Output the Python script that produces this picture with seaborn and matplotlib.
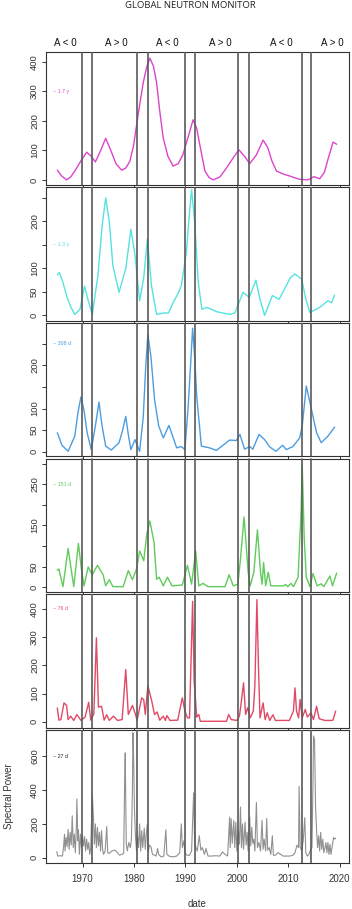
import numpy as np
import pandas as pd
import matplotlib
matplotlib.use("Agg")
import matplotlib.pyplot as plt
import seaborn as sns

# ---- data (year, spectral power) ----

# ~1.7 y
yr_17y = [1965.1, 1965.9, 1966.9, 1967.7, 1968.5, 1969.6, 1970.8, 1971.7, 1972.5, 1973.4, 1974.5,
          1975.5, 1976.5, 1977.6, 1978.4, 1979.2, 1979.9, 1980.5, 1981.2, 1981.8, 1982.5, 1983.1,
          1983.8, 1984.4, 1985.0, 1985.7, 1986.6, 1987.6, 1988.6, 1989.5, 1990.6, 1991.5, 1992.2,
          1992.8, 1993.8, 1994.6, 1995.4, 1996.7, 1998.0, 1999.3, 2000.4, 2001.5, 2002.5, 2003.8,
          2005.1, 2006.0, 2006.8, 2007.7, 2009.0, 2010.3, 2011.3, 2012.2, 2013.8, 2015.0, 2016.1,
          2017.0, 2017.8, 2018.7, 2019.4]
pw_17y = [33, 14, 0, 10, 30, 62, 94, 80, 61, 95, 141, 100, 55, 33, 40, 63, 115, 185, 265, 330, 385, 413,
          385, 330, 235, 141, 80, 47, 55, 85, 150, 204, 175, 119, 30, 8, 0, 10, 41, 75, 102, 80, 55, 85,
          135, 110, 65, 30, 20, 13, 7, 2, 0, 11, 4, 25, 75, 128, 121]

# ~1.3 y
yr_13y = [1965.1, 1965.5, 1966.2, 1966.9, 1967.7, 1968.5, 1969.5, 1970.4, 1971.1, 1971.9, 1973.0,
          1973.8, 1974.5, 1975.2, 1975.9, 1977.1, 1978.4, 1979.4, 1980.2, 1981.1, 1981.9, 1982.6,
          1983.4, 1984.4, 1985.7, 1986.7, 1987.6, 1988.5, 1989.2, 1990.2, 1990.8, 1991.2, 1991.8,
          1992.5, 1993.2, 1994.2, 1996.0, 1998.6, 1999.6, 2001.2, 2002.4, 2003.7, 2004.5, 2005.4,
          2006.9, 2008.2, 2009.6, 2010.4, 2011.3, 2012.6, 2013.4, 2014.2, 2016.1, 2017.7, 2018.4,
          2019.0]
pw_13y = [86, 91, 70, 42, 18, 2, 13, 62, 32, 2, 85, 190, 250, 200, 106, 49, 99, 183, 128, 31, 80, 162,
          63, 2, 5, 5, 27, 45, 63, 135, 220, 267, 199, 70, 13, 17, 8, 2, 5, 49, 38, 75, 34, 0, 42, 34, 63,
          80, 88, 77, 35, 6, 17, 31, 27, 43]

# ~308 d
yr_308d = [1965.1, 1966.0, 1967.2, 1968.5, 1969.1, 1969.7, 1970.3, 1970.9, 1971.7, 1972.5, 1973.2,
           1973.8, 1974.5, 1975.6, 1977.1, 1977.8, 1978.4, 1978.9, 1979.4, 1980.2, 1981.1, 1981.8,
           1982.3, 1982.7, 1983.3, 1984.0, 1984.8, 1985.7, 1986.8, 1988.3, 1989.2, 1989.9, 1990.5,
           1991.0, 1991.4, 1991.8, 1992.2, 1993.1, 1994.7, 1996.0, 1998.6, 1999.9, 2000.6, 2001.5,
           2002.5, 2003.1, 2004.3, 2005.4, 2006.4, 2007.6, 2008.9, 2009.6, 2010.9, 2012.2, 2012.7,
           2013.5, 2014.5, 2015.5, 2016.4, 2017.7, 2019.0]
pw_308d = [44, 15, 1, 36, 90, 127, 95, 44, 5, 60, 115, 60, 13, 4, 21, 50, 82, 40, 5, 28, 1, 80, 200, 271,
           220, 121, 60, 32, 61, 9, 12, 5, 98, 200, 286, 220, 128, 13, 9, 3, 27, 26, 40, 6, 12, 6, 40, 28,
           11, 1, 15, 5, 12, 32, 59, 152, 98, 44, 21, 36, 57]

# ~151 d
yr_151d = [1965.1, 1965.4, 1966.2, 1967.2, 1968.3, 1969.2, 1969.8, 1970.3, 1971.1, 1971.9, 1972.9,
           1974.0, 1974.5, 1975.2, 1975.9, 1977.9, 1978.9, 1979.7, 1980.5, 1981.1, 1981.9, 1982.5,
           1983.1, 1983.9, 1984.4, 1984.9, 1985.7, 1986.5, 1987.4, 1989.4, 1990.4, 1991.2, 1992.0,
           1992.6, 1993.4, 1994.4, 1997.7, 1998.5, 1999.3, 2000.2, 2000.7, 2001.4, 2002.2, 2002.6,
           2003.3, 2004.0, 2004.6, 2004.9, 2005.2, 2005.6, 2006.1, 2006.6, 2009.0, 2009.5, 2009.9,
           2010.5, 2011.0, 2011.9, 2012.5, 2012.7, 2013.1, 2013.5, 2014.2, 2014.8, 2015.6, 2016.4,
           2016.9, 2018.1, 2018.6, 2019.4]
pw_151d = [41, 44, 1, 94, 1, 106, 42, 3, 49, 30, 53, 30, 3, 18, 1, 1, 40, 18, 44, 88, 64, 130, 161, 108,
           19, 24, 3, 24, 3, 5, 53, 7, 88, 3, 9, 1, 1, 30, 3, 7, 68, 171, 36, 3, 36, 139, 36, 7, 60, 3, 36,
           3, 3, 6, 1, 9, 1, 24, 189, 301, 117, 24, 1, 33, 3, 8, 1, 27, 3, 34]

# ~76 d
yr_76d = [1965.1, 1965.4, 1965.8, 1966.4, 1966.9, 1967.2, 1967.7, 1968.3, 1968.9, 1969.7, 1970.5,
          1971.2, 1971.6, 1972.2, 1972.7, 1973.1, 1973.7, 1974.2, 1974.7, 1975.2, 1976.0, 1976.8,
          1977.7, 1978.4, 1978.9, 1979.7, 1980.3, 1980.6, 1981.5, 1981.9, 1982.2, 1982.7, 1983.4,
          1984.0, 1984.5, 1985.0, 1985.7, 1986.1, 1986.4, 1987.0, 1988.5, 1989.4, 1989.9, 1990.4,
          1990.8, 1991.4, 1991.7, 1992.2, 1992.6, 1992.9, 1998.0, 1998.4, 1998.9, 2000.0, 2000.5,
          2000.9, 2001.3, 2001.7, 2002.1, 2002.6, 2003.2, 2003.5, 2003.9, 2004.2, 2004.5, 2005.1,
          2005.5, 2005.9, 2006.4, 2007.0, 2007.5, 2010.2, 2011.0, 2011.3, 2011.6, 2012.0, 2012.3,
          2012.7, 2013.3, 2013.7, 2014.4, 2014.9, 2015.5, 2016.0, 2017.1, 2018.4, 2018.7, 2019.2]
pw_76d = [49, 6, 8, 67, 58, 8, 20, 5, 26, 5, 17, 69, 6, 28, 297, 52, 55, 6, 25, 5, 20, 5, 8, 185, 26, 58,
          26, 5, 85, 78, 26, 128, 78, 26, 35, 6, 20, 5, 22, 5, 6, 85, 38, 14, 14, 426, 144, 17, 26, 2, 2,
          26, 8, 5, 20, 75, 138, 26, 50, 14, 38, 127, 432, 197, 14, 67, 8, 32, 5, 25, 5, 5, 38, 120, 38,
          14, 79, 14, 44, 17, 32, 8, 55, 11, 5, 5, 6, 38]

# ~27 d
yr_27d = [1965.0, 1965.2, 1965.8, 1966.1, 1966.3, 1966.5, 1966.6, 1966.8, 1967.0, 1967.2, 1967.4,
          1967.6, 1967.8, 1968.0, 1968.2, 1968.4, 1968.6, 1968.8, 1968.9, 1969.1, 1969.2, 1969.4,
          1969.6, 1969.8, 1970.0, 1970.2, 1970.4, 1970.6, 1970.8, 1971.0, 1971.2, 1971.4, 1971.6,
          1971.9, 1972.1, 1972.3, 1972.5, 1972.7, 1972.9, 1973.1, 1973.3, 1973.5, 1973.7, 1973.9,
          1974.1, 1974.4, 1974.7, 1974.9, 1975.2, 1975.7, 1976.3, 1976.8, 1977.2, 1977.6, 1978.0,
          1978.2, 1978.3, 1978.5, 1978.7, 1979.0, 1979.3, 1979.5, 1979.7, 1979.8, 1979.9, 1980.1,
          1980.3, 1980.5, 1980.7, 1980.9, 1981.1, 1981.3, 1981.5, 1981.7, 1982.0, 1982.2, 1982.4,
          1982.6, 1982.8, 1983.0, 1983.3, 1983.6, 1984.0, 1984.3, 1984.6, 1984.8, 1985.3, 1985.8,
          1986.2, 1986.4, 1986.8, 1987.5, 1988.3, 1988.9, 1989.2, 1989.4, 1989.7, 1989.9, 1990.3,
          1990.8, 1991.2, 1991.5, 1991.6, 1991.8, 1992.0, 1992.3, 1992.7, 1993.0, 1993.3, 1993.7,
          1994.0, 1994.4, 1995.0, 1995.8, 1996.7, 1997.2, 1997.7, 1998.2, 1998.6, 1998.7, 1998.9,
          1999.1, 1999.4, 1999.6, 1999.8, 2000.0, 2000.3, 2000.5, 2000.7, 2000.9, 2001.1, 2001.3,
          2001.6, 2001.8, 2002.0, 2002.2, 2002.5, 2002.7, 2002.9, 2003.1, 2003.3, 2003.5, 2003.8,
          2004.0, 2004.3, 2004.6, 2004.9, 2005.1, 2005.3, 2005.6, 2005.8, 2006.0, 2006.3, 2006.6,
          2006.9, 2007.1, 2007.5, 2008.0, 2008.5, 2009.0, 2009.6, 2010.3, 2010.9, 2011.3, 2011.7,
          2012.0, 2012.1, 2012.3, 2012.6, 2012.9, 2013.2, 2013.4, 2013.7, 2014.0, 2014.3, 2014.6,
          2014.8, 2014.9, 2015.1, 2015.3, 2015.5, 2015.7, 2015.9, 2016.1, 2016.3, 2016.5, 2016.7,
          2016.9, 2017.1, 2017.3, 2017.5, 2017.7, 2017.9, 2018.1, 2018.3, 2018.5, 2018.8, 2019.0,
          2019.2]
pw_27d = [36, 10, 12, 10, 60, 139, 40, 120, 65, 168, 50, 150, 75, 248, 60, 140, 30, 180, 347, 100, 165,
          20, 140, 60, 130, 70, 125, 40, 110, 50, 90, 20, 60, 378, 250, 80, 200, 60, 180, 70, 150, 40,
          160, 50, 20, 40, 184, 30, 25, 40, 45, 30, 15, 20, 25, 470, 620, 85, 40, 90, 60, 110, 400, 739,
          640, 285, 120, 40, 130, 60, 200, 40, 160, 60, 175, 50, 140, 200, 40, 75, 65, 20, 15, 10, 55, 20,
          5, 10, 165, 20, 10, 5, 10, 30, 200, 60, 100, 30, 15, 15, 40, 300, 383, 90, 65, 40, 130, 45, 60,
          20, 55, 10, 10, 12, 10, 35, 20, 10, 240, 60, 230, 85, 220, 60, 210, 40, 160, 80, 300, 60, 200,
          50, 210, 75, 150, 40, 240, 70, 180, 85, 110, 40, 327, 60, 90, 40, 220, 50, 110, 40, 232, 45, 60,
          20, 130, 15, 15, 30, 20, 10, 10, 10, 15, 30, 75, 60, 422, 65, 40, 100, 237, 30, 10, 20, 45, 60,
          450, 720, 700, 300, 160, 60, 130, 40, 150, 50, 110, 30, 55, 90, 30, 90, 20, 80, 20, 60, 120, 110,
          115]

periods = ["~ 1.7 y", "~ 1.3 y", "~ 308 d", "~ 151 d", "~ 76 d", "~ 27 d"]
colors = ["#dd44cc", "#55e3e0", "#4c9de0", "#5fcc5a", "#e04a66", "#909090"]
series = [(yr_17y, pw_17y), (yr_13y, pw_13y), (yr_308d, pw_308d),
          (yr_151d, pw_151d), (yr_76d, pw_76d), (yr_27d, pw_27d)]
label_colors = ["#dd44cc", "#55e3e0", "#4c9de0", "#5fcc5a", "#e04a66", "#222222"]

# polarity boundaries and labels
cycle_lines = [1969.9, 1971.9, 1980.5, 1982.7, 1989.9, 1991.9, 2000.2, 2002.3, 2012.7, 2014.5]
polarity_x = [1966.6, 1976.5, 1986.4, 1996.7, 2008.6, 2018.5]
polarity_txt = ["A < 0", "A > 0", "A < 0", "A > 0", "A < 0", "A > 0"]

ylims = [(-19, 434), (-12, 272), (-11, 298), (-12, 313), (-20, 452), (-31, 758)]
yticks = [[0, 100, 200, 300, 400], [0, 50, 100, 150, 200, 250], [0, 50, 100, 150, 200, 250],
          [0, 50, 100, 150, 200, 250, 300], [0, 100, 200, 300, 400], [0, 200, 400, 600]]
ytick_labels = [["0", "100", "200", "300", "400"], ["0", "50", "100", "", "200", ""],
                ["0", "50", "100", "", "200", ""], ["0", "50", "", "150", "", "250", ""],
                ["0", "100", "200", "300", "400"], ["0", "200", "400", "600"]]
label_y = [300, 150, 250, 250, 400, 600]
xticks = [1970, 1980, 1990, 2000, 2010, 2020]

sns.set_style("ticks")
plt.rcParams["font.family"] = ["Liberation Sans", "DejaVu Sans"]

W, H = 352, 909
fig = plt.figure(figsize=(W / 100, H / 100), dpi=100)

left, right = 46, 349
top, bottom, gap = 52, 863, 2
ph = (bottom - top - 5 * gap) / 6

axes = []
for i in range(6):
    y0 = top + i * (ph + gap)
    ax = fig.add_axes([left / W, 1 - (y0 + ph) / H, (right - left) / W, ph / H])
    axes.append(ax)
    df = pd.DataFrame({"date": series[i][0], "power": series[i][1]})
    sns.lineplot(data=df, x="date", y="power", ax=ax, color=colors[i],
                 lw=0.8 if i == 5 else 1.0, sort=False, estimator=None)
    for xv in cycle_lines:
        ax.axvline(xv, color="#5a5a5a", lw=1.2, zorder=3)
    ax.set_xlim(1962.9, 2021.8)
    ax.set_ylim(*ylims[i])
    ax.set_yticks(yticks[i])
    ax.set_yticklabels(ytick_labels[i], rotation=90, va="center", fontsize=6.8, color="#333333")
    ax.set_xticks(xticks)
    ax.tick_params(axis="both", length=3, width=0.7, color="#333333", pad=2)
    if i < 5:
        ax.set_xticklabels([])
        ax.set_xlabel("")
    else:
        ax.set_xticklabels([str(t) for t in xticks], fontsize=7, color="#333333")
        ax.tick_params(axis="x", pad=5)
        ax.set_xlabel("date", fontsize=7, color="#333333", labelpad=11)
    ax.set_ylabel("")
    for s in ax.spines.values():
        s.set_visible(True)
        s.set_color("#333333")
        s.set_linewidth(0.8)
    ax.text(1964.3, label_y[i], periods[i], fontsize=3.8, color=label_colors[i], va="center", ha="left")

axes[5].set_ylabel("Spectral Power", fontsize=7, color="#333333")
axes[5].yaxis.set_label_coords(-0.105, 0.5)

for xv, t in zip(polarity_x, polarity_txt):
    axes[0].text(xv, 1.065, t, transform=axes[0].get_xaxis_transform(), ha="center", va="center",
                 fontsize=7, color="#111111")

fig.text(190 / W, 1 - 6 / H, "GLOBAL NEUTRON MONITOR", ha="center", va="center",
         fontsize=6.8, color="#222222", family=["Open Sans", "DejaVu Sans"])

fig.savefig("out.png", dpi=100)
